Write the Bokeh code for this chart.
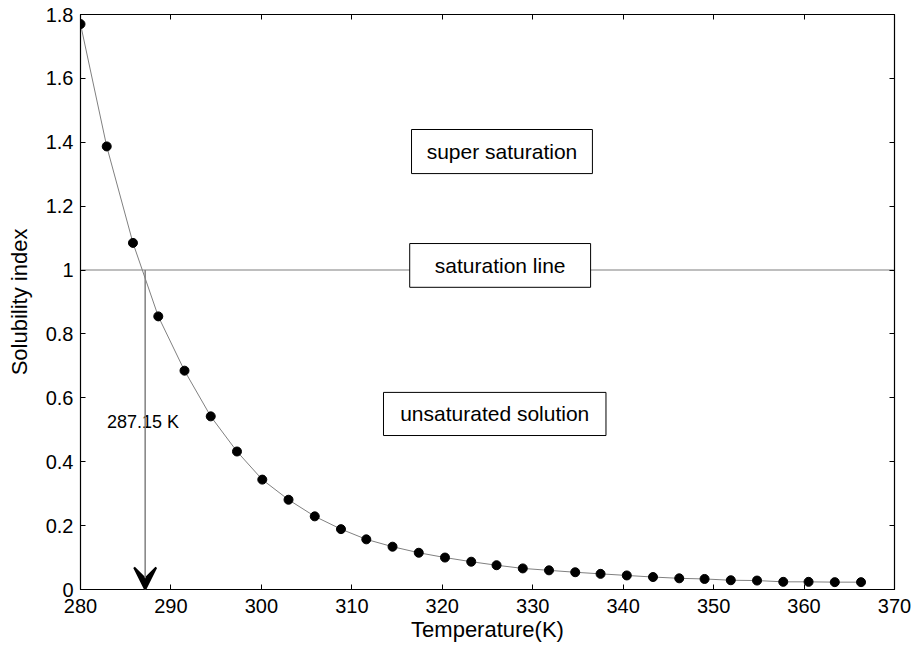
from bokeh.plotting import figure
from bokeh.models import (ColumnDataSource, LinearAxis, FixedTicker, CustomJSTickFormatter,
                          Arrow, VeeHead, Span)
from bokeh.core.properties import value
from bokeh.embed import file_html
from bokeh.resources import INLINE

# Temperature (K) and the solubility index measured at each temperature
temperature = [280.0, 282.9, 285.8, 288.6, 291.5, 294.4, 297.3, 300.1, 303.0, 305.9,
               308.8, 311.6, 314.5, 317.4, 320.3, 323.2, 326.0, 328.9, 331.8, 334.7,
               337.5, 340.4, 343.3, 346.2, 349.0, 351.9, 354.8, 357.7, 360.5, 363.4,
               366.3]
solubility_index = [1.770, 1.387, 1.085, 0.855, 0.685, 0.542, 0.432, 0.344, 0.281, 0.229,
                    0.189, 0.157, 0.134, 0.115, 0.100, 0.087, 0.076, 0.066, 0.060, 0.054,
                    0.049, 0.044, 0.039, 0.035, 0.033, 0.029, 0.028, 0.024, 0.024, 0.023,
                    0.023]

x_ticks = [280, 290, 300, 310, 320, 330, 340, 350, 360, 370]
y_ticks = [0, 0.2, 0.4, 0.6, 0.8, 1.0, 1.2, 1.4, 1.6, 1.8]

saturation_level = 1.0
crossing_temperature = 287.15
crossing_label = "287.15 K"

# Region labels and the boxes drawn round them (data units)
region_text = ["super saturation", "saturation line", "unsaturated solution"]
region_cx = [326.6, 326.4, 325.8]
region_cy = [1.371, 1.0145, 0.5495]
box_left = [316.6, 316.4, 313.5]
box_right = [336.6, 336.4, 338.1]
box_top = [1.440, 1.083, 0.617]
box_bottom = [1.302, 0.946, 0.482]

FONT = "Liberation Sans"

p = figure(width=920, height=654, output_backend="svg", toolbar_location=None,
           x_range=(280, 370), y_range=(0, 1.8),
           min_border_left=80, min_border_right=26, min_border_top=14, min_border_bottom=65)
p.grid.visible = False
p.outline_line_color = "black"
p.outline_line_width = 1.2

xt = FixedTicker(ticks=x_ticks)
yt = FixedTicker(ticks=y_ticks)
yfmt = CustomJSTickFormatter(code="return tick.toFixed(1).replace(/\\.0$/, '');")
blank_fmt = CustomJSTickFormatter(code="return '';")


def style_axis(ax):
    ax.major_tick_in = 5
    ax.major_tick_out = 0
    ax.minor_tick_in = 0
    ax.minor_tick_out = 0
    ax.axis_line_color = "black"
    ax.major_tick_line_color = "black"
    ax.major_label_text_font = FONT
    ax.axis_label_text_font = FONT
    ax.axis_label_text_font_style = "normal"
    ax.axis_label_text_color = "black"
    ax.major_label_text_color = "black"
    ax.major_label_text_font_size = "20px"
    ax.axis_label_text_font_size = "22px"


p.xaxis.ticker = xt
p.yaxis.ticker = yt
p.yaxis.formatter = yfmt
style_axis(p.xaxis[0])
style_axis(p.yaxis[0])
p.xaxis.axis_label = "Temperature(K)"
p.yaxis.axis_label = "Solubility index"
p.xaxis.major_label_standoff = 9
p.yaxis.major_label_standoff = 7
p.xaxis.axis_label_standoff = 1
p.yaxis.axis_label_standoff = 11

# Mirror ticks along the top and right edges of the box
top_axis = LinearAxis(ticker=xt, formatter=blank_fmt)
right_axis = LinearAxis(ticker=yt, formatter=blank_fmt)
style_axis(top_axis)
style_axis(right_axis)
top_axis.major_label_standoff = 0
right_axis.major_label_standoff = 0
p.add_layout(top_axis, "above")
p.add_layout(right_axis, "right")

# Saturation line at index = 1, kept beneath the boxed labels
p.add_layout(Span(location=saturation_level, dimension="width",
                  line_color="#a8a8a8", line_width=1.5, level="underlay"))

# Solubility curve with its sample points
src = ColumnDataSource(data=dict(t=temperature, s=solubility_index))
p.line("t", "s", source=src, line_color="#808080", line_width=1)
p.scatter("t", "s", source=src, size=9, fill_color="black", line_color="black")

# Arrow dropping from the crossing point to the temperature axis
p.add_layout(Arrow(x_start=crossing_temperature, y_start=saturation_level,
                   x_end=crossing_temperature, y_end=0,
                   line_color="#808080", line_width=1.5,
                   end=VeeHead(size=22, fill_color="black", line_color="black",
                               line_width=2)))
p.text(x=[crossing_temperature - 0.25], y=[0.523], text=[crossing_label],
       text_align="center", text_baseline="middle", text_font=value(FONT),
       text_font_size="18px", text_color="black")

# Boxed region labels
box_src = ColumnDataSource(data=dict(left=box_left, right=box_right, top=box_top,
                                     bottom=box_bottom, cx=region_cx, cy=region_cy,
                                     label=region_text))
p.quad(left="left", right="right", top="top", bottom="bottom", source=box_src,
       fill_color="white", line_color="black", line_width=1)
p.text(x="cx", y="cy", text="label", source=box_src, text_align="center",
       text_baseline="middle", text_font=value(FONT), text_font_size="21px",
       text_color="black")

open("out.html", "w").write(file_html(p, INLINE))
